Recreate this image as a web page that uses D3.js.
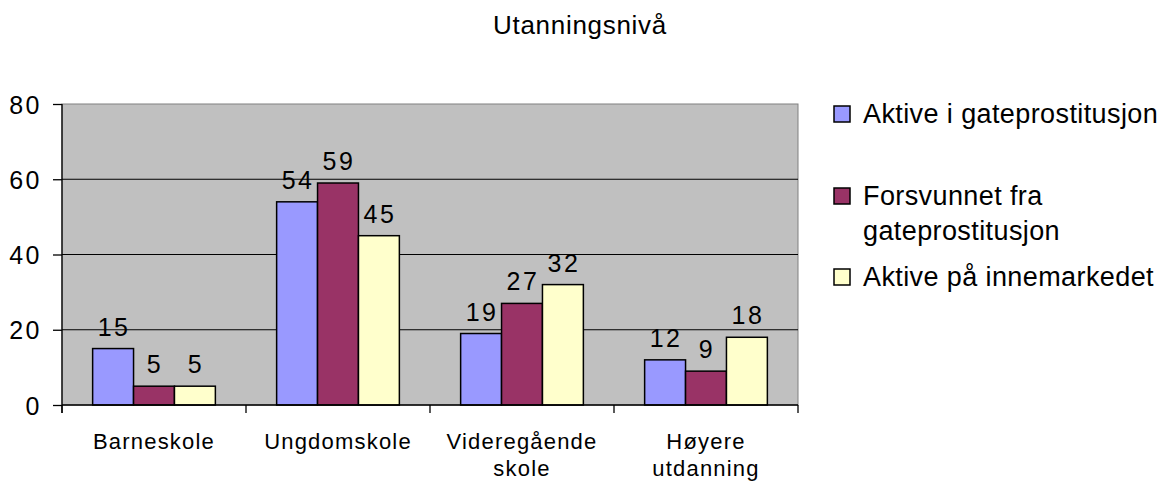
<!DOCTYPE html>
<html><head><meta charset="utf-8">
<script src="https://cdn.jsdelivr.net/npm/d3@7"></script>
<style>body{margin:0;background:#fff;} svg{display:block;} text{font-family:"Liberation Sans",Arial,sans-serif;fill:#000;}</style>
</head><body>
<svg id="c" width="1175" height="483"></svg>
<script>
const title = "Utanningsnivå";
const categories = [["Barneskole"], ["Ungdomskole"], ["Videregående","skole"], ["Høyere","utdanning"]];
const seriesNames = [["Aktive i gateprostitusjon"], ["Forsvunnet fra","gateprostitusjon"], ["Aktive på innemarkedet"]];
const aktiveGate = [15, 54, 19, 12];
const forsvunnet = [5, 59, 27, 9];
const aktiveInne = [5, 45, 32, 18];
const yTicks = [0, 20, 40, 60, 80];
const colors = ["#9999FF", "#993366", "#FFFFCC"];
const series = [aktiveGate, forsvunnet, aktiveInne];

const svg = d3.select("#c");
const L = 62, R = 798, T = 104, B = 405;
const x0 = d3.scaleBand().domain(d3.range(categories.length)).range([L, R]).paddingInner(0).paddingOuter(0);
const bw = x0.bandwidth();
const groupW = bw * 0.667;
const x1 = d3.scaleBand().domain(d3.range(series.length)).range([(bw - groupW) / 2, (bw + groupW) / 2]);
const y = d3.scaleLinear().domain([0, 80]).range([B, T]);

svg.append("rect").attr("x", L).attr("y", T).attr("width", R - L).attr("height", B - T)
  .attr("fill", "#C0C0C0").attr("stroke", "#808080").attr("stroke-width", 1);

svg.selectAll("line.grid").data(yTicks.filter(d => d > 0 && d < 80)).enter().append("line")
  .attr("x1", L).attr("x2", R).attr("y1", d => y(d)).attr("y2", d => y(d))
  .attr("stroke", "#000").attr("stroke-width", 1);

const yAxis = d3.axisLeft(y).tickValues(yTicks).tickSize(9).tickPadding(11);
const ga = svg.append("g").attr("transform", `translate(${L},0)`).call(yAxis);
ga.select(".domain").attr("stroke", "#000").attr("stroke-width", 1.3).attr("d", `M0,${T}V${B + 8}`);
ga.selectAll(".tick line").attr("stroke", "#000").attr("stroke-width", 1.3);
ga.selectAll(".tick text").style("font-size", "25px").style("letter-spacing", "2.5px")
  .attr("dy", "0.36em").attr("fill", "#000");

series.forEach((s, si) => {
  svg.selectAll(null).data(s).enter().append("rect")
    .attr("x", (d, i) => x0(i) + x1(si))
    .attr("y", d => y(d))
    .attr("width", x1.bandwidth())
    .attr("height", d => y(0) - y(d))
    .attr("fill", colors[si]).attr("stroke", "#000").attr("stroke-width", 1.5);
  svg.selectAll(null).data(s).enter().append("text")
    .attr("x", (d, i) => x0(i) + x1(si) + x1.bandwidth() / 2 + 1)
    .attr("y", d => y(d) - 13)
    .attr("text-anchor", "middle")
    .style("font-size", "25px").style("letter-spacing", "2.5px")
    .text(d => d);
});

svg.append("line").attr("x1", L).attr("x2", R).attr("y1", B).attr("y2", B).attr("stroke", "#000").attr("stroke-width", 1.3);
svg.selectAll("line.xt").data(d3.range(categories.length + 1)).enter().append("line")
  .attr("x1", i => L + i * bw).attr("x2", i => L + i * bw).attr("y1", B).attr("y2", B + 8)
  .attr("stroke", "#000").attr("stroke-width", 1.3);
categories.forEach((lines, i) => {
  const t = svg.append("text").attr("text-anchor", "middle").style("font-size", "22px").style("letter-spacing", "1.2px");
  lines.forEach((ln, j) => t.append("tspan").attr("x", x0(i) + bw / 2).attr("y", 449 + j * 27).text(ln));
});

svg.append("text").attr("x", 580).attr("y", 34).attr("text-anchor", "middle")
  .style("font-size", "26px").style("letter-spacing", "0.7px").text(title);

const legY = [123, 205, 286];
seriesNames.forEach((lines, i) => {
  svg.append("rect").attr("x", 834).attr("y", legY[i] - 17).attr("width", 16).attr("height", 16)
    .attr("fill", colors[i]).attr("stroke", "#000").attr("stroke-width", 1.5);
  const t = svg.append("text").style("font-size", "27px").style("letter-spacing", "0.4px");
  lines.forEach((ln, j) => t.append("tspan").attr("x", 863).attr("y", legY[i] + j * 35).text(ln));
});
</script>
</body></html>
